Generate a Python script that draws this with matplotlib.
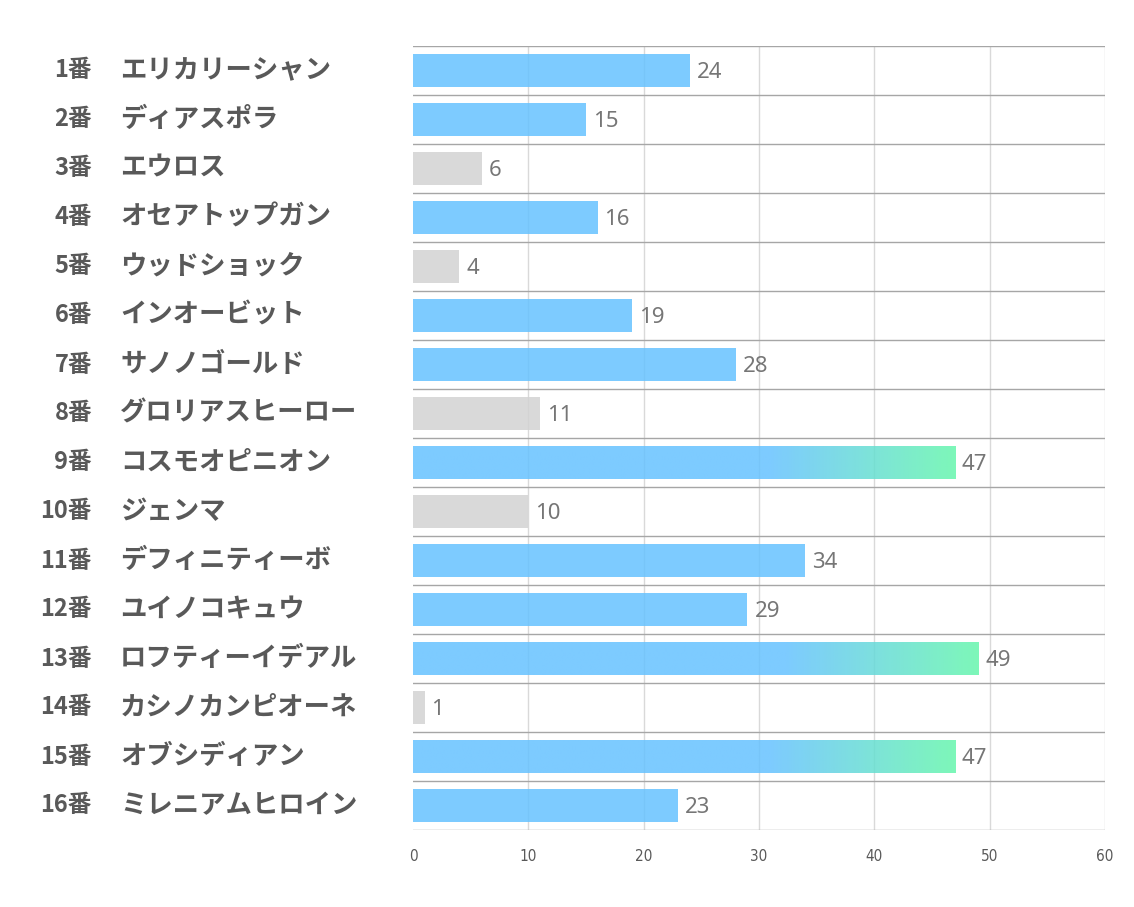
import matplotlib.pyplot as plt
import numpy as np
from matplotlib.colors import LinearSegmentedColormap
from matplotlib.transforms import blended_transform_factory

plt.rcParams["font.family"] = ["Noto Sans CJK JP", "DejaVu Sans"]

numbers = ["1番", "2番", "3番", "4番", "5番", "6番", "7番", "8番",
           "9番", "10番", "11番", "12番", "13番", "14番", "15番", "16番"]
names = ["エリカリーシャン", "ディアスポラ", "エウロス", "オセアトップガン",
         "ウッドショック", "インオービット", "サノノゴールド", "グロリアスヒーロー",
         "コスモオピニオン", "ジェンマ", "デフィニティーボ", "ユイノコキュウ",
         "ロフティーイデアル", "カシノカンピオーネ", "オブシディアン", "ミレニアムヒロイン"]
values = [24, 15, 6, 16, 4, 19, 28, 11, 47, 10, 34, 29, 49, 1, 47, 23]
# 0 = gray, 1 = blue, 2 = blue->green gradient
kind = [1, 1, 0, 1, 0, 1, 1, 0, 2, 0, 1, 1, 2, 0, 2, 1]

blue = "#66c2ff"
green = "#66f6ad"
gray = "#d3d3d3"
alpha = 0.85
label_col = "#595959"

fig = plt.figure(figsize=(11.34, 9.07), dpi=100)
ax = fig.add_axes([413 / 1134, 1 - 830 / 907, (1105 - 413) / 1134, (830 - 46) / 907])

n = len(values)
y = np.arange(n)
h = 0.67
cmap = LinearSegmentedColormap.from_list("bg", [(0, blue), (0.66, blue), (1, green)])

for i in range(n):
    v = values[i]
    if kind[i] == 2:
        grad = np.linspace(0, 1, 512).reshape(1, -1)
        ax.imshow(grad, cmap=cmap, aspect="auto", alpha=alpha, zorder=2,
                  extent=[0, v, y[i] + h / 2, y[i] - h / 2],
                  interpolation="bilinear")
    else:
        ax.barh(y[i], v, height=h, color=blue if kind[i] == 1 else gray,
                alpha=alpha, zorder=2, linewidth=0)
    ax.text(v + 0.6, y[i] + 0.05, str(v), va="center", ha="left", fontsize=16,
            color="#767676", family=["Noto Sans", "DejaVu Sans"])

ax.set_xlim(0, 60)
ax.set_ylim(n - 0.5, -0.5)
ax.set_xticks(np.arange(0, 61, 10))
ax.set_yticks([])
ax.tick_params(axis="x", length=0, pad=14, labelsize=11, labelcolor=label_col)
for t in ax.get_xticklabels():
    t.set_fontfamily(["DejaVu Sans"])
    t.set_fontstretch("condensed")

for x in range(10, 61, 10):
    ax.axvline(x, color="#d9d9d9", lw=1, zorder=1)
for b in np.arange(-0.5, n, 1.0):
    ax.axhline(b, color="#a6a6a6", lw=1, zorder=1)

for s in ax.spines.values():
    s.set_visible(False)

tr = blended_transform_factory(fig.transFigure, ax.transData)
for i in range(n):
    ax.text(92 / 1134, y[i], numbers[i], transform=tr,
            ha="right", va="center", fontsize=17, fontweight="bold", color=label_col)
    ax.text(120 / 1134, y[i], names[i], transform=tr,
            ha="left", va="center", fontsize=19, fontweight="bold", color=label_col)

fig.savefig("out.png", dpi=100, facecolor="white")
